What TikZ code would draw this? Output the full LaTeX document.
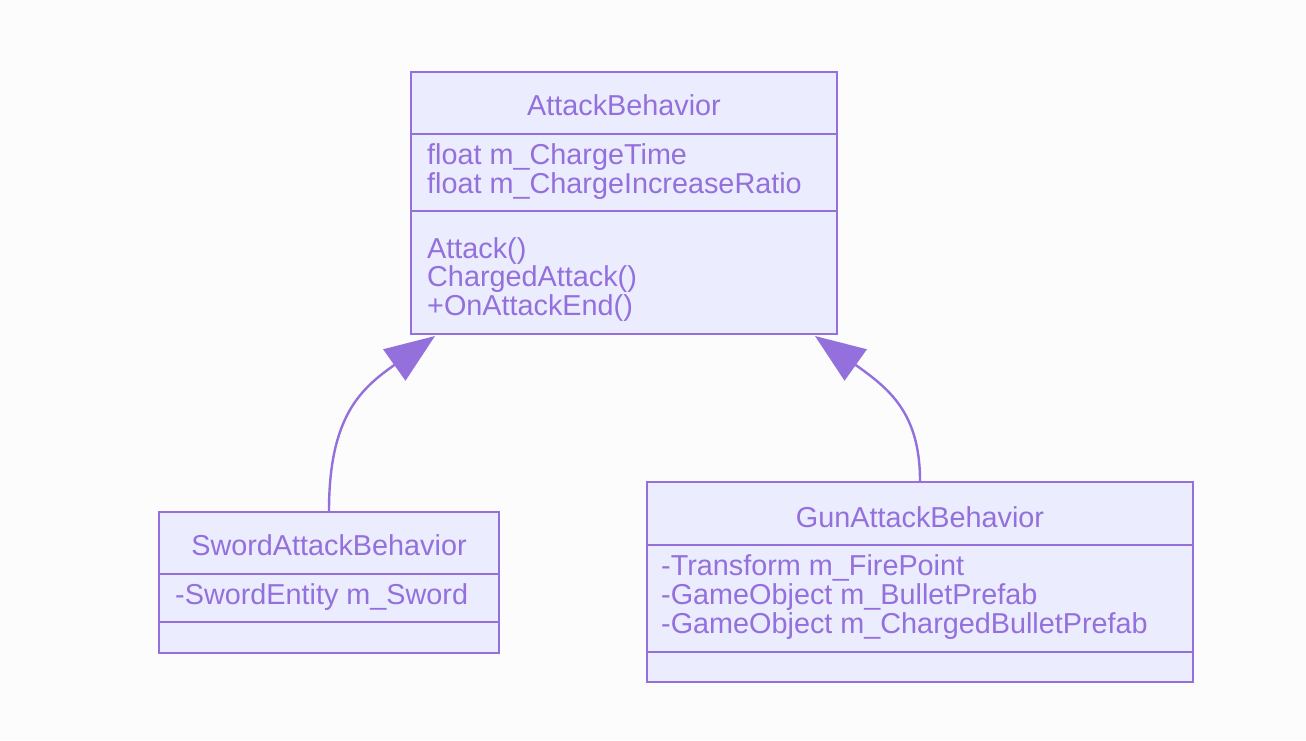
\documentclass[tikz,border=0pt]{standalone}
\usepackage{fontspec}
\setmainfont{Liberation Sans}
\usetikzlibrary{arrows.meta}
\definecolor{strokec}{HTML}{9370DB}
\definecolor{fillc}{HTML}{ECECFF}
\definecolor{bgc}{HTML}{FCFCFC}
\begin{document}
\begin{tikzpicture}[x=1pt,y=-1pt,
  classbox/.style={draw=strokec, fill=fillc, line width=2.4pt, rectangle, inner sep=0pt},
  classtitle/.style={text=strokec, anchor=base, inner sep=0pt, font=\fontsize{28.8}{29}\selectfont},
  member/.style={text=strokec, anchor=base west, inner sep=0pt, font=\fontsize{28.8}{29}\selectfont},
  divider/.style={draw=strokec, line width=2.4pt},
  inherit/.style={draw=strokec, line width=2.4pt, -{Triangle[length=50pt,width=38pt]}}]
\fill[bgc] (0,0) rectangle (1306,740);
\useasboundingbox (0,0) rectangle (1306,740);

% AttackBehavior
\node[classbox, minimum width=426pt, minimum height=262pt] (ab) at (624,203) {};
\draw[divider] ([yshift=-63pt]ab.north west) -- ([yshift=-63pt]ab.north east);
\draw[divider] ([yshift=-140pt]ab.north west) -- ([yshift=-140pt]ab.north east);
\node[classtitle] (abt) at (624,115) {AttackBehavior};
\node[member] (aba1) at (427,164) {float m\_ChargeTime};
\node[member] (aba2) at (427,193) {float m\_ChargeIncreaseRatio};
\node[member] (abm1) at (427,258) {Attack()};
\node[member] (abm2) at (427,286) {ChargedAttack()};
\node[member] (abm3) at (427,315) {+OnAttackEnd()};

% SwordAttackBehavior
\node[classbox, minimum width=340pt, minimum height=141pt] (sw) at (329,582.5) {};
\draw[divider] ([yshift=-63pt]sw.north west) -- ([yshift=-63pt]sw.north east);
\draw[divider] ([yshift=-111pt]sw.north west) -- ([yshift=-111pt]sw.north east);
\node[classtitle] (swt) at (329,555) {SwordAttackBehavior};
\node[member] (swa1) at (175,604) {-SwordEntity m\_Sword};

% GunAttackBehavior
\node[classbox, minimum width=546pt, minimum height=200pt] (gun) at (920,582) {};
\draw[divider] ([yshift=-64pt]gun.north west) -- ([yshift=-64pt]gun.north east);
\draw[divider] ([yshift=-171pt]gun.north west) -- ([yshift=-171pt]gun.north east);
\node[classtitle] (gunt) at (920,527) {GunAttackBehavior};
\node[member] (guna1) at (661,575) {-Transform m\_FirePoint};
\node[member] (guna2) at (661,604) {-GameObject m\_BulletPrefab};
\node[member] (guna3) at (661,633) {-GameObject m\_ChargedBulletPrefab};

% inheritance arrows
\coordinate (tipL) at (435,336);
\coordinate (tipR) at (815,336);
\draw[inherit] (sw.north) .. controls (329,415) and (362,388) .. (tipL);
\draw[inherit] (gun.north) .. controls (920,412) and (888,388) .. (tipR);
\end{tikzpicture}
\end{document}
